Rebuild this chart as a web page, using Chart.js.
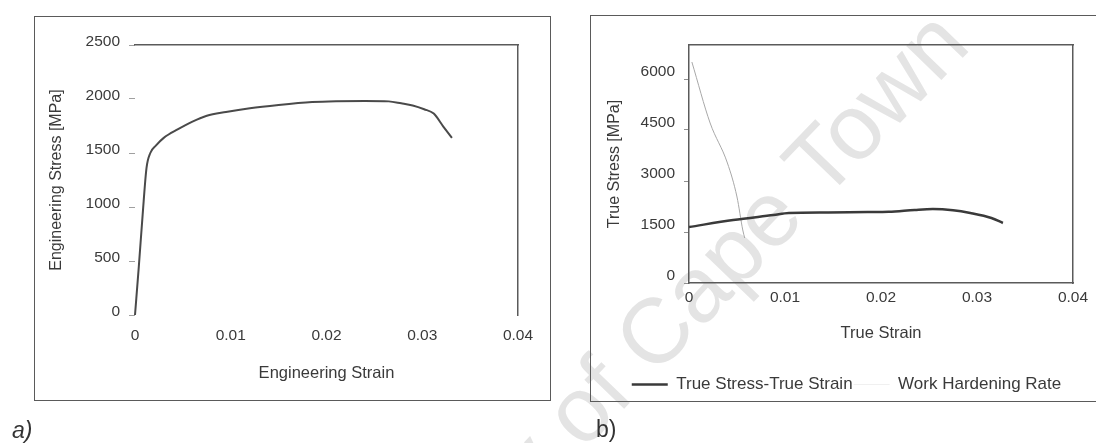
<!DOCTYPE html>
<html>
<head>
<meta charset="utf-8">
<script src="https://cdn.jsdelivr.net/npm/chart.js@4.4.1/dist/chart.umd.min.js"></script>
<style>
  html, body { margin:0; padding:0; background:#fff; width:1096px; height:443px; overflow:hidden; }
  #page { position:relative; width:1096px; height:443px; font-family:"Liberation Sans", Arial, sans-serif; filter:blur(0.5px); }
  .frame { position:absolute; border:1.5px solid #5a5a5a; box-sizing:border-box; }
  #frameA { left:34px; top:16px; width:517px; height:385px; }
  #frameB { left:590px; top:15px; width:600px; height:387px; }
  .wrap { position:absolute; }
  #wrapA { left:36px; top:17px; width:513px; height:382px; }
  #wrapB { left:575px; top:16px; width:521px; height:387px; }
  .panel { position:absolute; font-size:23px; color:#333; line-height:1; }
  #panelA { left:12px; top:419px; font-style:italic; }
  #panelB { left:596px; top:418px; }
  #wm { position:absolute; left:593px; top:461px; width:0; height:0; transform:rotate(-46deg); transform-origin:0 0; }
  #wm span { position:absolute; bottom:0; white-space:nowrap; font-size:92px; line-height:1; color:#e4e4e4; }
  #wm .pre { right:0; }
  #wm .post { left:0; }
</style>
</head>
<body>
<div id="page">
  <div id="wm"><span class="pre">University&nbsp;</span><span class="post">of Cape Town</span></div>
  <div class="frame" id="frameA"></div>
  <div class="frame" id="frameB"></div>
  <div class="wrap" id="wrapA"><canvas id="chartA"></canvas></div>
  <div class="wrap" id="wrapB"><canvas id="chartB"></canvas></div>
  <div class="panel" id="panelA">a)</div>
  <div class="panel" id="panelB">b)</div>
</div>
<script>
// (a) engineering stress-strain curve
const engStrain = [0, 0.0004, 0.0008, 0.0012, 0.0016, 0.0022, 0.003, 0.0045, 0.006, 0.0075, 0.0095, 0.012, 0.015, 0.0185, 0.021, 0.024, 0.0265, 0.0278, 0.029, 0.0302, 0.0312, 0.0322, 0.0331];
const engStress = [0, 450, 930, 1360, 1500, 1570, 1640, 1720, 1790, 1845, 1880, 1915, 1945, 1972, 1980, 1982, 1978, 1960, 1940, 1905, 1865, 1745, 1640];

// (b) true stress-true strain curve
const trueStrain = [0, 0.0046, 0.0088, 0.0104, 0.0145, 0.0186, 0.0208, 0.0235, 0.0254, 0.0275, 0.0293, 0.0315, 0.0327];
const trueStress = [1647, 1853, 2000, 2059, 2075, 2088, 2095, 2150, 2176, 2140, 2059, 1912, 1765];

// (b) work hardening rate
const whStrain = [0.0003, 0.0022, 0.0040, 0.0050, 0.0056, 0.0058];
const whRate = [6500, 4706, 3529, 2529, 1559, 1323];

// axis ticks
const strainTicks = [0, 0.01, 0.02, 0.03, 0.04];
const engStressTicks = [0, 500, 1000, 1500, 2000, 2500];
const trueStressTicks = [0, 1500, 3000, 4500, 6000];

const INK = '#3a3a3a';
const FRAME = '#5a5a5a';
Chart.defaults.font.family = '"Liberation Sans", Arial, sans-serif';
Chart.defaults.color = INK;

const pts = (xs, ys) => xs.map((x, i) => ({ x, y: ys[i] }));
const fmtStrain = v => (v === 0 ? '0' : Number(v).toFixed(2));
const fmtStress = v => String(v);
const onlyTicks = list => scale => {
  scale.ticks = list.map(v => ({ value: v }));
};
const frameAxis = (pos, min, max, size, showBorder) => ({
  type: 'linear', position: pos, min, max,
  ticks: { display: false },
  grid: { display: true, drawOnChartArea: false, drawTicks: false },
  border: { display: showBorder, color: FRAME, width: 1.5 },
  afterFit: s => { if (pos === 'top' || pos === 'bottom') s.height = size; else s.width = size; }
});

new Chart(document.getElementById('chartA'), {
  type: 'line',
  data: {
    datasets: [{
      label: 'Engineering Stress',
      data: pts(engStrain, engStress),
      borderColor: '#4a4a4a', borderWidth: 2,
      pointRadius: 0, cubicInterpolationMode: 'monotone', clip: 4
    }]
  },
  options: {
    responsive: true, maintainAspectRatio: false, animation: false, devicePixelRatio: 1,
    layout: { padding: { left: 0, top: 28, right: 0, bottom: 0 } },
    plugins: { legend: { display: false }, tooltip: { enabled: false } },
    scales: {
      x: {
        type: 'linear', position: 'bottom', min: 0, max: 0.04,
        afterBuildTicks: onlyTicks(strainTicks),
        ticks: { callback: fmtStrain, padding: 11, font: { size: 15.5 }, color: INK },
        grid: { display: false, drawTicks: false },
        border: { display: false },
        title: { display: true, text: 'Engineering Strain', font: { size: 16.5 }, color: INK, padding: { top: 0, bottom: 16 } },
        afterFit: s => { s.height = 84; }
      },
      y: {
        type: 'linear', position: 'left', min: 0, max: 2500,
        afterBuildTicks: onlyTicks(engStressTicks),
        ticks: { callback: fmtStress, padding: 9, labelOffset: -3, font: { size: 15.5 }, color: INK },
        grid: { drawOnChartArea: false, tickLength: 6, color: '#a0a0a0' },
        border: { display: false },
        title: { display: true, text: 'Engineering Stress [MPa]', font: { size: 16 }, color: INK, padding: { top: 11, bottom: 0 } },
        afterFit: s => { s.width = 99; }
      },
      xTop: frameAxis('top', 0, 0.04, 0, true),
      yRight: frameAxis('right', 0, 2500, 31, true)
    }
  }
});

new Chart(document.getElementById('chartB'), {
  type: 'line',
  data: {
    datasets: [{
      label: 'True Stress-True Strain',
      data: pts(trueStrain, trueStress),
      borderColor: '#3a3a3a', borderWidth: 2.5,
      pointRadius: 0, cubicInterpolationMode: 'monotone'
    }, {
      label: 'Work Hardening Rate',
      data: pts(whStrain, whRate),
      borderColor: '#a8a8a8', borderWidth: 1,
      pointRadius: 0, cubicInterpolationMode: 'monotone'
    }]
  },
  options: {
    responsive: true, maintainAspectRatio: false, animation: false, devicePixelRatio: 1,
    layout: { padding: { left: 22, top: 29, right: 0, bottom: 0 } },
    plugins: {
      tooltip: { enabled: false },
      legend: {
        display: true, position: 'bottom', align: 'center',
        labels: {
          usePointStyle: true, pointStyle: 'line', pointStyleWidth: 36, padding: 1,
          font: { size: 17 }, color: INK,
          // the pale work-hardening key line is barely visible on the printed page
          generateLabels: chart => {
            const items = Chart.defaults.plugins.legend.labels.generateLabels(chart);
            items.forEach(it => { if (it.datasetIndex === 1) it.strokeStyle = '#f0f0f0'; });
            return items;
          }
        }
      }
    },
    scales: {
      x: {
        type: 'linear', position: 'bottom', min: 0, max: 0.04,
        afterBuildTicks: onlyTicks(strainTicks),
        ticks: { callback: fmtStrain, padding: 5, font: { size: 15.5 }, color: INK },
        grid: { display: true, drawOnChartArea: false, drawTicks: false },
        border: { display: true, color: FRAME, width: 1.5 },
        title: { display: true, text: 'True Strain', font: { size: 16.5 }, color: INK, padding: { top: 0, bottom: 32 } },
        afterFit: s => { s.height = 92; }
      },
      y: {
        type: 'linear', position: 'left', min: 0, max: 7000,
        afterBuildTicks: onlyTicks(trueStressTicks),
        ticks: { callback: fmtStress, padding: 9, labelOffset: -7, font: { size: 15.5 }, color: INK },
        grid: { drawOnChartArea: false, tickLength: 5, color: '#909090' },
        border: { display: true, color: FRAME, width: 1.5 },
        title: { display: true, text: 'True Stress [MPa]', font: { size: 16 }, color: INK, padding: { top: 8, bottom: 0 } },
        afterFit: s => { s.width = 92; }
      },
      xTop: frameAxis('top', 0, 0.04, 0, true),
      yRight: frameAxis('right', 0, 7000, 23, true)
    }
  }
});
</script>
</body>
</html>
